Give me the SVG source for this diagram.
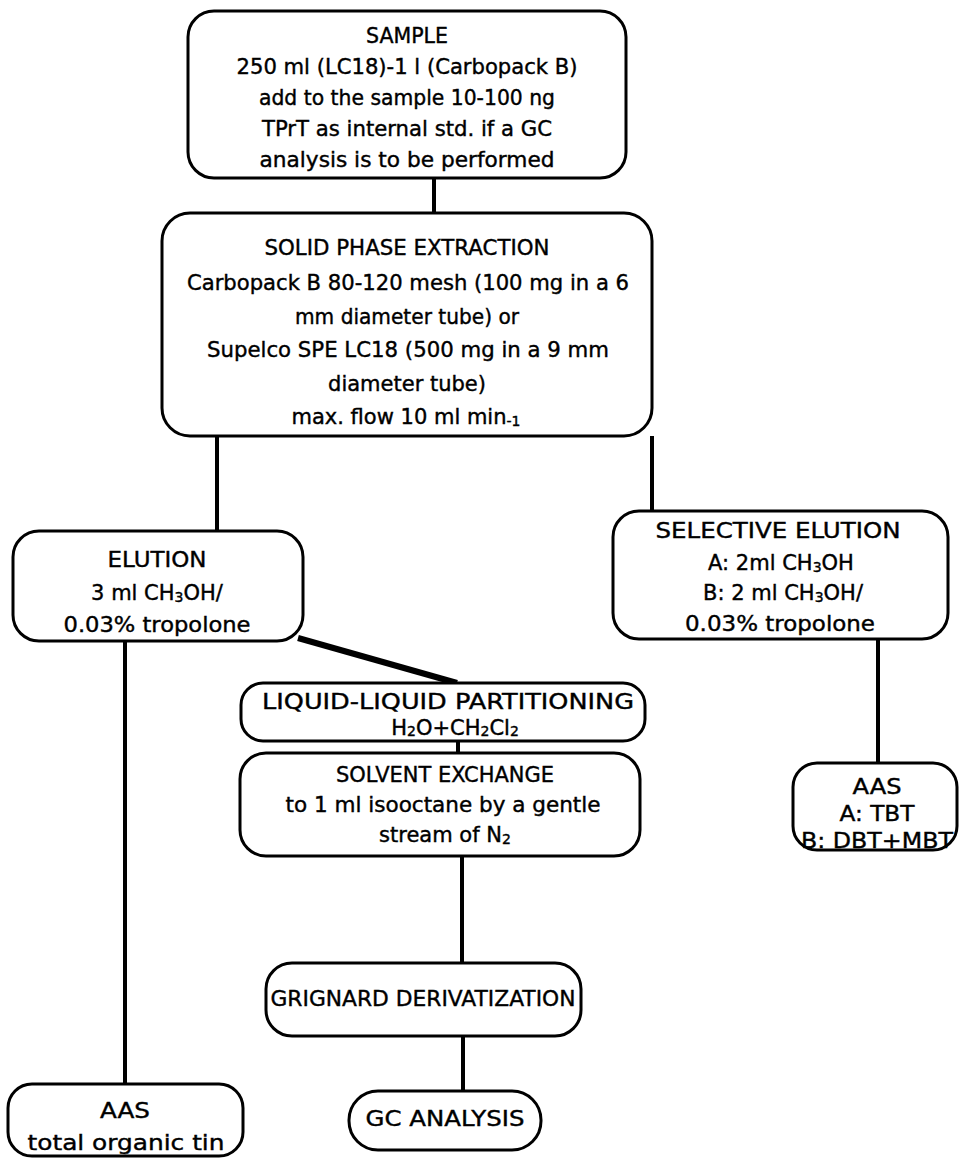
<svg xmlns="http://www.w3.org/2000/svg" width="959" height="1160" viewBox="0 0 959 1160">
<style>
.box{fill:#fff;stroke:#000;stroke-width:3}
.c{stroke:#000;stroke-width:4;fill:none}
text{font-family:"DejaVu Sans","Liberation Sans",sans-serif;font-size:21px;fill:#000;stroke:#000;stroke-width:0.4;text-anchor:middle}
.h{font-size:22px}
.s{font-size:14px}
</style>
<rect width="959" height="1160" fill="#fff"/>
<g id="connectors">
<line class="c" x1="434" y1="178" x2="434" y2="213"/>
<line class="c" x1="217" y1="436" x2="217" y2="531"/>
<line class="c" x1="652" y1="436" x2="652" y2="511"/>
<line class="c" x1="125" y1="641" x2="125" y2="1084"/>
<line class="c" x1="298" y1="638" x2="457" y2="683" style="stroke-width:6"/>
<line class="c" x1="458" y1="741" x2="458" y2="753"/>
<line class="c" x1="462" y1="856" x2="462" y2="963"/>
<line class="c" x1="463" y1="1036" x2="463" y2="1091"/>
<line class="c" x1="878" y1="639" x2="878" y2="763"/>
</g>
<g id="sample">
<rect class="box" x="188" y="11" width="438" height="167" rx="26"/>
<text class="h" x="407" y="43" textLength="82" lengthAdjust="spacingAndGlyphs">SAMPLE</text>
<text x="407" y="74" textLength="341" lengthAdjust="spacingAndGlyphs">250 ml (LC18)-1 l (Carbopack B)</text>
<text x="407" y="105" textLength="296" lengthAdjust="spacingAndGlyphs">add to the sample 10-100 ng</text>
<text x="407" y="136" textLength="290" lengthAdjust="spacingAndGlyphs">TPrT as internal std. if a GC</text>
<text x="407" y="167" textLength="295" lengthAdjust="spacingAndGlyphs">analysis is to be performed</text>
</g>
<g id="spe">
<rect class="box" x="162" y="213" width="490" height="223" rx="28"/>
<text class="h" x="407" y="255" textLength="285" lengthAdjust="spacingAndGlyphs">SOLID PHASE EXTRACTION</text>
<text x="408" y="290" textLength="442" lengthAdjust="spacingAndGlyphs">Carbopack B 80-120 mesh (100 mg in a 6</text>
<text x="407" y="324" textLength="224" lengthAdjust="spacingAndGlyphs">mm diameter tube) or</text>
<text x="408" y="357" textLength="402" lengthAdjust="spacingAndGlyphs">Supelco SPE LC18 (500 mg in a 9 mm</text>
<text x="407" y="391">diameter tube)</text>
<text x="406" y="424">max. flow 10 ml min<tspan class="s" dy="2">-1</tspan></text>
</g>
<g id="elution">
<rect class="box" x="13" y="531" width="290" height="110" rx="26"/>
<text class="h" x="157" y="567" textLength="99" lengthAdjust="spacingAndGlyphs">ELUTION</text>
<text x="157" y="600">3 ml CH<tspan class="s" dy="2">3</tspan><tspan dy="-2">OH/</tspan></text>
<text x="157" y="632" textLength="187" lengthAdjust="spacingAndGlyphs">0.03% tropolone</text>
</g>
<g id="selective">
<rect class="box" x="613" y="511" width="335" height="128" rx="26"/>
<text class="h" x="778" y="538" textLength="245" lengthAdjust="spacingAndGlyphs">SELECTIVE ELUTION</text>
<text x="781" y="570">A: 2ml CH<tspan class="s" dy="2">3</tspan><tspan dy="-2">OH</tspan></text>
<text x="783" y="600">B: 2 ml CH<tspan class="s" dy="2">3</tspan><tspan dy="-2">OH/</tspan></text>
<text x="780" y="631" textLength="190" lengthAdjust="spacingAndGlyphs">0.03% tropolone</text>
</g>
<g id="liquid">
<rect class="box" x="241" y="683" width="404" height="58" rx="22"/>
<text class="h" x="448" y="709" textLength="372" lengthAdjust="spacingAndGlyphs">LIQUID-LIQUID PARTITIONING</text>
<text x="455" y="735">H<tspan class="s" dy="1">2</tspan><tspan dy="-1">O+CH</tspan><tspan class="s" dy="1">2</tspan><tspan dy="-1">Cl</tspan><tspan class="s" dy="1">2</tspan></text>
</g>
<g id="solvent">
<rect class="box" x="240" y="753" width="400" height="103" rx="26"/>
<text class="h" x="445" y="782" textLength="218" lengthAdjust="spacingAndGlyphs">SOLVENT EXCHANGE</text>
<text x="443" y="812" textLength="315" lengthAdjust="spacingAndGlyphs">to 1 ml isooctane by a gentle</text>
<text x="445" y="842">stream of N<tspan class="s" dy="2">2</tspan></text>
</g>
<g id="grignard">
<rect class="box" x="266" y="963" width="315" height="73" rx="26"/>
<text class="h" x="423" y="1006" textLength="305" lengthAdjust="spacingAndGlyphs">GRIGNARD DERIVATIZATION</text>
</g>
<g id="gc">
<rect class="box" x="349" y="1091" width="192" height="59" rx="29"/>
<text class="h" x="445" y="1126" textLength="159" lengthAdjust="spacingAndGlyphs">GC ANALYSIS</text>
</g>
<g id="aas-left">
<rect class="box" x="8" y="1084" width="235" height="72" rx="24"/>
<text class="h" x="125" y="1118" textLength="50" lengthAdjust="spacingAndGlyphs">AAS</text>
<text class="h" x="126" y="1150" textLength="197" lengthAdjust="spacingAndGlyphs">total organic tin</text>
</g>
<g id="aas-right">
<rect class="box" x="793" y="763" width="164" height="87" rx="24"/>
<text class="h" x="877" y="794" textLength="49" lengthAdjust="spacingAndGlyphs">AAS</text>
<text class="h" x="877" y="821" textLength="75" lengthAdjust="spacingAndGlyphs">A: TBT</text>
<text class="h" x="877" y="848" textLength="152" lengthAdjust="spacingAndGlyphs">B: DBT+MBT</text>
</g>
</svg>
